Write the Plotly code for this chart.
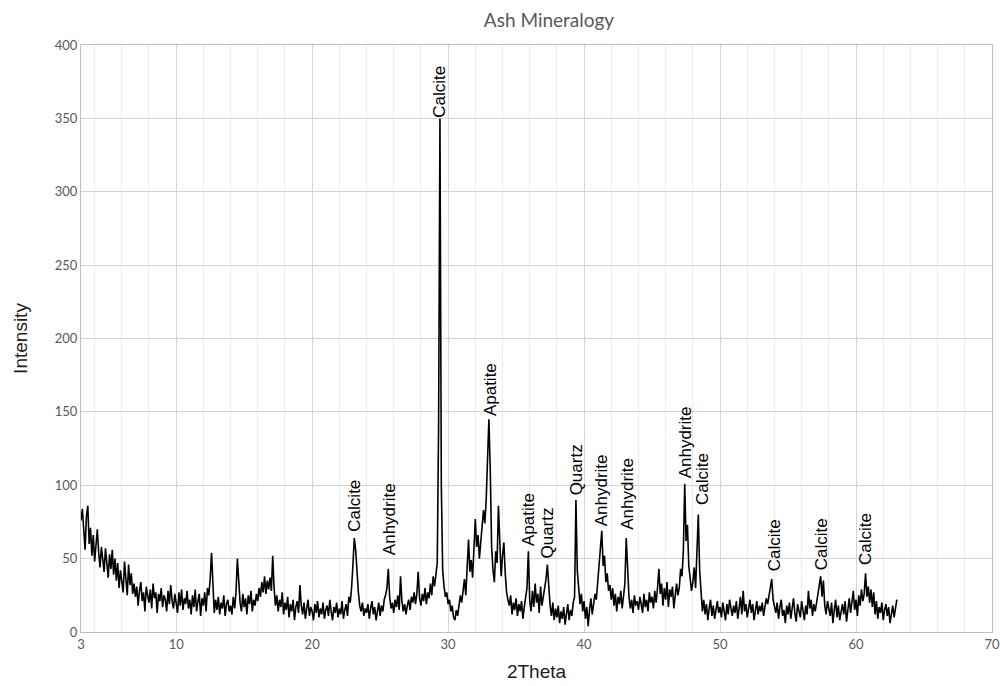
import plotly.graph_objects as go

# 2Theta grid: 3.0 .. 63.0, step 0.1
two_theta_start = 3.0
two_theta_step = 0.1

intensity = [
    76, 84, 70, 56, 79, 86, 60, 71, 52, 66,   # 3
    48, 63, 70, 54, 44, 58, 50, 41, 57, 47,   # 4
    37, 53, 43, 56, 39, 50, 35, 47, 30, 42,   # 5
    34, 27, 48, 35, 25, 46, 32, 40, 26, 33,   # 6
    24, 31, 18, 28, 34, 21, 27, 14, 31, 25,   # 7
    20, 29, 16, 33, 23, 27, 13, 26, 21, 30,   # 8
    17, 25, 22, 14, 28, 19, 32, 21, 16, 26,   # 9
    20, 13, 27, 18, 29, 15, 23, 19, 28, 16,   # 10
    22, 12, 25, 17, 29, 14, 21, 26, 11, 23,   # 11
    18, 27, 14, 30, 25, 36, 54, 33, 13, 22,   # 12
    15, 24, 12, 20, 16, 25, 11, 19, 22, 14,   # 13
    18, 12, 24, 16, 27, 50, 31, 20, 14, 26,   # 14
    17, 23, 12, 25, 19, 28, 14, 22, 18, 26,   # 15
    21, 30, 24, 34, 27, 38, 26, 35, 29, 37,   # 16
    28, 52, 30, 18, 25, 14, 22, 17, 27, 12,   # 17
    20, 15, 24, 10, 19, 14, 22, 8, 17, 21,    # 18
    13, 32, 18, 12, 20, 9, 16, 22, 11, 17,    # 19
    14, 8, 19, 13, 21, 10, 16, 12, 20, 9,     # 20
    15, 18, 11, 22, 14, 8, 17, 13, 20, 10,    # 21
    16, 12, 21, 9, 15, 19, 11, 24, 20, 30,    # 22
    46, 64, 56, 40, 27, 18, 14, 20, 11, 16,   # 23
    13, 19, 9, 16, 21, 12, 17, 8, 15, 20,     # 24
    11, 18, 14, 22, 25, 30, 43, 24, 16, 20,   # 25
    13, 22, 17, 25, 15, 38, 21, 14, 19, 12,   # 26
    18, 22, 15, 24, 20, 27, 19, 26, 41, 23,   # 27
    18, 26, 21, 30, 19, 27, 23, 33, 25, 38,   # 28
    31, 38, 47, 140, 350, 100, 42, 31, 24, 27,  # 29
    19, 22, 14, 18, 10, 8, 15, 11, 17, 25,    # 30
    20, 28, 36, 25, 44, 63, 41, 49, 37, 57,   # 31
    77, 58, 66, 50, 60, 70, 83, 74, 90, 118,  # 32
    145, 110, 58, 42, 34, 55, 47, 86, 60, 38,  # 33
    52, 61, 40, 27, 22, 18, 25, 12, 20, 15,   # 34
    23, 11, 19, 14, 21, 9, 17, 24, 30, 55,    # 35
    22, 14, 28, 17, 33, 20, 26, 13, 31, 18,   # 36
    24, 29, 36, 46, 30, 18, 11, 20, 8, 16,    # 37
    10, 18, 6, 14, 9, 17, 5, 13, 19, 8,       # 38
    15, 11, 20, 24, 90, 42, 30, 19, 26, 14,   # 39
    21, 9, 17, 4, 15, 23, 12, 19, 26, 22,     # 40
    35, 48, 56, 69, 45, 52, 34, 40, 28, 32,   # 41
    22, 30, 18, 26, 14, 24, 19, 28, 16, 25,   # 42
    33, 64, 38, 24, 16, 22, 13, 25, 18, 21,   # 43
    15, 24, 19, 13, 26, 17, 22, 14, 27, 20,   # 44
    24, 16, 28, 20, 30, 43, 26, 33, 18, 30,   # 45
    22, 34, 17, 29, 24, 31, 16, 27, 33, 25,   # 46
    30, 43, 38, 55, 101, 62, 73, 45, 34, 28,  # 47
    34, 44, 30, 55, 80, 42, 25, 14, 22, 12,   # 48
    19, 8, 16, 22, 11, 18, 9, 15, 21, 13,     # 49
    17, 10, 20, 14, 8, 19, 12, 22, 15, 11,    # 50
    18, 13, 21, 9, 16, 24, 12, 28, 14, 19,    # 51
    10, 17, 22, 13, 19, 8, 16, 21, 12, 18,    # 52
    14, 20, 11, 17, 23, 19, 25, 30, 36, 22,   # 53
    18, 13, 20, 9, 17, 22, 11, 15, 6, 18,     # 54
    12, 20, 9, 16, 23, 13, 7, 19, 14, 10,     # 55
    21, 15, 8, 18, 12, 28, 16, 22, 11, 19,    # 56
    14, 20, 26, 30, 38, 24, 35, 18, 12, 21,   # 57
    17, 11, 20, 6, 15, 22, 10, 18, 8, 14,     # 58
    19, 12, 21, 7, 16, 23, 13, 20, 28, 15,    # 59
    22, 11, 25, 18, 29, 21, 26, 40, 24, 31,   # 60
    20, 29, 17, 27, 12, 21, 9, 17, 13, 20,    # 61
    8, 15, 19, 11, 17, 6, 14, 18, 10, 16,     # 62
    22,                                        # 63
]

two_theta = [round(two_theta_start + i * two_theta_step, 2) for i in range(len(intensity))]

peak_labels = ["Calcite", "Anhydrite", "Calcite", "Apatite", "Apatite", "Quartz", "Quartz",
               "Anhydrite", "Anhydrite", "Anhydrite", "Calcite", "Calcite", "Calcite", "Calcite"]
peak_label_x = [23.15, 25.65, 29.4, 33.07, 35.96, 37.34, 39.47, 41.28, 43.2, 47.46, 48.66, 53.96, 57.46, 60.7]
peak_label_y = [67, 51, 349, 146, 57, 49, 92, 71, 68, 103, 85, 40, 41, 44]

x_tick_vals = [3, 10, 20, 30, 40, 50, 60, 70]
x_minor_vals = [v for v in range(4, 70, 2) if v % 10 != 0]

fig = go.Figure()
fig.add_trace(go.Scatter(
    x=two_theta, y=intensity, mode="lines",
    line=dict(color="black", width=1.6),
    showlegend=False,
))

for lab, lx, ly in zip(peak_labels, peak_label_x, peak_label_y):
    fig.add_annotation(
        x=lx, y=ly, xref="x", yref="y", text=lab, showarrow=False,
        textangle=-90, xanchor="center", yanchor="bottom",
        font=dict(family="Liberation Sans, Arial", size=17, color="black"),
    )

tick_font = dict(family="Lato, Open Sans", size=13, color="#595959")

fig.update_layout(
    width=1000, height=686,
    margin=dict(l=81, r=8, t=45, b=54, autoexpand=False),
    paper_bgcolor="white", plot_bgcolor="white",
    title=dict(text="Ash Mineralogy", x=0.549, xref="container", xanchor="center",
               y=1 - 20 / 686, yref="container", yanchor="middle",
               font=dict(family="Lato, Open Sans", size=19, color="#595959")),
    xaxis=dict(
        range=[3, 70], tickvals=x_tick_vals, ticktext=[str(v) for v in x_tick_vals],
        showgrid=True, gridcolor="#d4d4d4", gridwidth=1,
        minor=dict(tickvals=x_minor_vals, showgrid=True, gridcolor="#ececec", gridwidth=1),
        showline=True, linecolor="#bfbfbf", linewidth=1, mirror=True,
        ticks="", tickfont=tick_font, zeroline=False,
        title=dict(text="2Theta", standoff=14,
                   font=dict(family="Liberation Sans, Arial", size=19, color="#222222")),
    ),
    yaxis=dict(
        range=[0, 400], tickvals=list(range(0, 401, 50)),
        showgrid=True, gridcolor="#d4d4d4", gridwidth=1,
        showline=True, linecolor="#bfbfbf", linewidth=1, mirror=True,
        ticks="", tickfont=tick_font, zeroline=False,
        title=dict(text="Intensity", standoff=22,
                   font=dict(family="Liberation Sans, Arial", size=19, color="#222222")),
    ),
)

fig.write_html("out.html")
